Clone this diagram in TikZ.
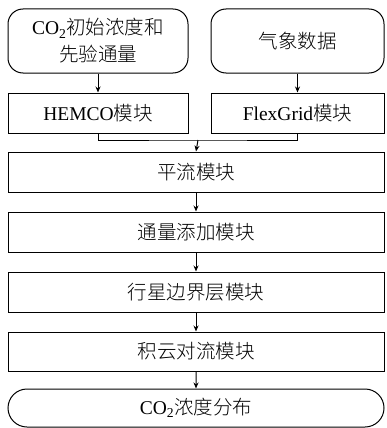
\documentclass[tikz,border=0pt]{standalone}
\usepackage{fontspec}
\setmainfont{Liberation Serif}
\newfontfamily\cjk{Noto Sans CJK SC}[UprightFont={* Light}]
\usetikzlibrary{arrows.meta,shapes.misc}
\tikzset{
  box/.style={draw, line width=1pt, inner sep=0pt, font=\fontsize{19.5}{27}\selectfont, align=center},
  rbox/.style={box, rounded corners=15pt},
  endbox/.style={box, rounded rectangle},
  arr/.style={line width=1pt, -{Stealth[length=6pt,width=5pt]}},
  ln/.style={line width=1pt}
}
\begin{document}
\begin{tikzpicture}[x=1pt,y=-1pt]
\useasboundingbox (0,0) rectangle (387,428);
\node[rbox, minimum width=180pt, minimum height=64pt] (tl) at (98,41)
  {CO\textsubscript{2}{\cjk 初始浓度和}\\{\cjk 先验通量}};
\node[rbox, minimum width=173pt, minimum height=64pt] (tr) at (297.5,41) {{\cjk 气象数据}};
\node[box, minimum width=180pt, minimum height=40pt] (hemco) at (98,113) {HEMCO{\cjk 模块}};
\node[box, minimum width=173pt, minimum height=40pt] (flex) at (297.5,113) {FlexGrid{\cjk 模块}};
\node[box, minimum width=376pt, minimum height=40pt] (adv) at (196,172) {{\cjk 平流模块}};
\node[box, minimum width=376pt, minimum height=40pt] (flux) at (196,232) {{\cjk 通量添加模块}};
\node[box, minimum width=376pt, minimum height=40pt] (pbl) at (196,292) {{\cjk 行星边界层模块}};
\node[box, minimum width=376pt, minimum height=39pt] (conv) at (196,351.5) {{\cjk 积云对流模块}};
\node[endbox, minimum width=376pt, minimum height=38pt] (out) at (196,408) {CO\textsubscript{2}{\cjk 浓度分布}};
\coordinate (m) at (198,140);
\draw[arr] (tl) -- (hemco);
\draw[arr] (tr) -- (flex);
\draw[ln] (hemco.south) |- (m) -| (flex.south);
\draw[arr] (m) -- (adv.north);
\draw[arr] (adv) -- (flux);
\draw[arr] (flux) -- (pbl);
\draw[arr] (pbl) -- (conv);
\draw[arr] (conv) -- (out);
\end{tikzpicture}
\end{document}
